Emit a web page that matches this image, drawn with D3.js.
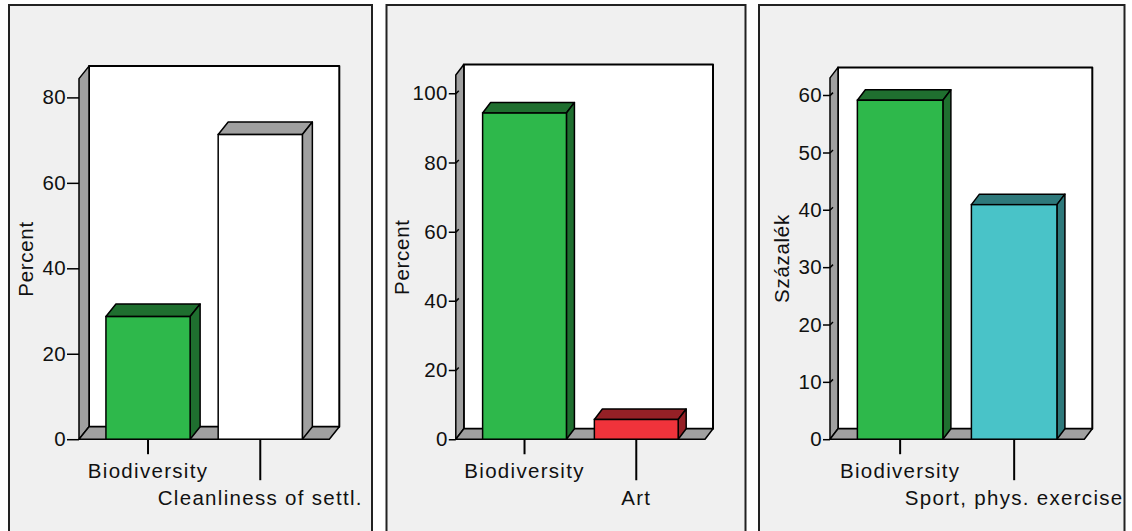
<!DOCTYPE html>
<html>
<head>
<meta charset="utf-8">
<script src="https://cdn.jsdelivr.net/npm/d3@7"></script>
<style>
  html, body { margin: 0; padding: 0; background: #ffffff; }
  svg { display: block; }
  text { font-family: "Liberation Sans", Arial, sans-serif; fill: #111; }
</style>
</head>
<body>
<svg id="chart" width="1132" height="531"></svg>
<script>
// ---- data ----
const categories1 = ["Biodiversity", "Cleanliness of settl."];
const values1 = [28.7, 71.3];
const ticks1 = [0, 20, 40, 60, 80];
const yTitle1 = "Percent";

const categories2 = ["Biodiversity", "Art"];
const values2 = [94.3, 5.7];
const ticks2 = [0, 20, 40, 60, 80, 100];
const yTitle2 = "Percent";

const categories3 = ["Biodiversity", "Sport, phys. exercise"];
const values3 = [59.1, 40.9];
const ticks3 = [0, 10, 20, 30, 40, 50, 60];
const yTitle3 = "Százalék";

// ---- bar palettes (front face, top/side face) ----
const faces1 = [["#2eb84b", "#1f6f2f"], ["#ffffff", "#a0a0a0"]];
const faces2 = [["#2eb84b", "#1f6f2f"], ["#f0333b", "#952026"]];
const faces3 = [["#2eb84b", "#1f6f2f"], ["#49c3c8", "#2e797b"]];

const svg = d3.select("#chart");

const panels = [
  { cats: categories1, vals: values1, ticks: ticks1, title: yTitle1, faces: faces1,
    frame: [9, 5, 372, 560], x0: 79, x1: 329.3, floorY: 439.2, topY: 78.6, yMax: 84.4,
    dx: 10, dy: -12.5, tickLen: 12, hook: false, titleX: 33 },
  { cats: categories2, vals: values2, ticks: ticks2, title: yTitle2, faces: faces2,
    frame: [386.5, 5, 745.5, 560], x0: 455.8, x1: 705, floorY: 439.2, topY: 75, yMax: 105.3,
    dx: 8, dy: -10.5, tickLen: 7, hook: true, titleX: 408.5 },
  { cats: categories3, vals: values3, ticks: ticks3, title: yTitle3, faces: faces3,
    frame: [759, 5, 1124.5, 560], x0: 830, x1: 1084.3, floorY: 439.2, topY: 77.9, yMax: 63,
    dx: 8, dy: -10.5, tickLen: 7, hook: true, titleX: 789 }
];

const FONT = 20.5;
const LS = "1.3px";

panels.forEach((p, pi) => {
  const [fx0, fy0, fx1, fy1] = p.frame;
  const clipId = "clip" + pi;
  svg.append("clipPath").attr("id", clipId)
    .append("rect").attr("x", fx0).attr("y", fy0).attr("width", fx1 - fx0).attr("height", fy1 - fy0);

  const g = svg.append("g").attr("clip-path", `url(#${clipId})`);

  // panel background
  g.append("rect")
    .attr("x", fx0).attr("y", fy0).attr("width", fx1 - fx0).attr("height", fy1 - fy0)
    .attr("fill", "#f0f0f0");

  const y = d3.scaleLinear().domain([0, p.yMax]).range([p.floorY, p.topY]);
  const x = d3.scaleBand().domain(p.cats).range([p.x0, p.x1])
    .paddingInner(0.25).paddingOuter(0.24);

  const dx = p.dx, dy = p.dy;
  const fy = y(0), ty = y(p.yMax);
  const line = d3.line();

  // back wall
  g.append("rect")
    .attr("x", p.x0 + dx).attr("y", ty + dy)
    .attr("width", p.x1 - p.x0).attr("height", fy - ty)
    .attr("fill", "#ffffff").attr("stroke", "#000").attr("stroke-width", 2)
    .attr("stroke-linejoin", "round");

  // left wall
  g.append("path")
    .attr("d", line([[p.x0, fy], [p.x0, ty], [p.x0 + dx, ty + dy], [p.x0 + dx, fy + dy]]) + "Z")
    .attr("fill", "#a0a0a0").attr("stroke", "#000").attr("stroke-width", 1.5)
    .attr("stroke-linejoin", "round");

  // floor
  g.append("path")
    .attr("d", line([[p.x0, fy], [p.x0 + dx, fy + dy], [p.x1 + dx, fy + dy], [p.x1, fy]]) + "Z")
    .attr("fill", "#a0a0a0").attr("stroke", "#000").attr("stroke-width", 1.5)
    .attr("stroke-linejoin", "round");

  // bars
  const bw = x.bandwidth();
  p.cats.forEach((c, i) => {
    const v = p.vals[i];
    const bx = x(c), by = y(v);
    const [front, shade] = p.faces[i];
    const bar = g.append("g");
    bar.append("path")
      .attr("d", line([[bx, by], [bx + dx, by + dy], [bx + bw + dx, by + dy], [bx + bw, by]]) + "Z")
      .attr("fill", shade).attr("stroke", "#000").attr("stroke-width", 1.5).attr("stroke-linejoin", "round");
    bar.append("path")
      .attr("d", line([[bx + bw, by], [bx + bw + dx, by + dy], [bx + bw + dx, fy + dy], [bx + bw, fy]]) + "Z")
      .attr("fill", shade).attr("stroke", "#000").attr("stroke-width", 1.5).attr("stroke-linejoin", "round");
    bar.append("rect")
      .attr("x", bx).attr("y", by).attr("width", bw).attr("height", fy - by)
      .attr("fill", front).attr("stroke", "#000").attr("stroke-width", 1.5);
  });

  // y axis
  const ax = g.append("g").attr("transform", `translate(${p.x0},0)`)
    .call(d3.axisLeft(y).tickValues(p.ticks).tickFormat(d3.format("d"))
      .tickSize(p.tickLen).tickSizeOuter(0).tickPadding(1));
  ax.select(".domain").remove();
  ax.selectAll(".tick line").attr("stroke", "#000").attr("stroke-width", 1.5);
  ax.selectAll(".tick text")
    .attr("font-size", FONT).style("letter-spacing", "0.4px")
    .attr("fill", "#111").attr("font-family", "Liberation Sans, Arial, sans-serif");
  if (p.hook) {
    ax.selectAll(".tick").filter(d => d > 0).append("path")
      .attr("d", `M0,0L3,-3`).attr("stroke", "#000").attr("stroke-width", 1.5).attr("fill", "none");
  }

  // y title
  g.append("text")
    .attr("transform", `translate(${p.titleX},${(fy + ty) / 2}) rotate(-90)`)
    .attr("text-anchor", "middle")
    .attr("font-size", FONT).style("letter-spacing", "0.7px")
    .text(p.title);

  // category ticks and staggered labels
  const bx = g.append("g").attr("transform", `translate(0,${fy})`)
    .call(d3.axisBottom(x).tickSize(15).tickSizeOuter(0));
  bx.select(".domain").remove();
  bx.selectAll(".tick line").attr("stroke", "#000").attr("stroke-width", 2)
    .attr("y2", (d, i) => (i % 2 ? 41 : 15));
  bx.selectAll(".tick text")
    .attr("font-size", FONT).style("letter-spacing", LS)
    .attr("fill", "#111").attr("font-family", "Liberation Sans, Arial, sans-serif")
    .attr("dy", null)
    .attr("y", (d, i) => (i % 2 ? 66 : 39));

  // panel frame
  svg.append("rect")
    .attr("x", fx0).attr("y", fy0).attr("width", fx1 - fx0).attr("height", fy1 - fy0)
    .attr("fill", "none").attr("stroke", "#222").attr("stroke-width", 2);
});
</script>
</body>
</html>
